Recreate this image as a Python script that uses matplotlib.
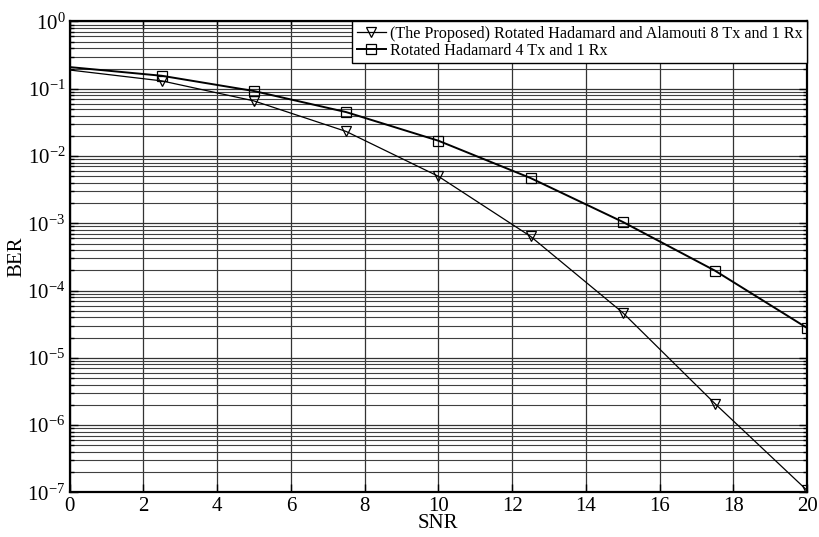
import numpy as np
import matplotlib
matplotlib.use("Agg")
import matplotlib.pyplot as plt
from matplotlib.ticker import FixedLocator, NullFormatter, MultipleLocator, LogFormatterSciNotation

plt.rcParams['font.family'] = ['Liberation Serif', 'DejaVu Serif']
plt.rcParams['mathtext.fontset'] = 'custom'
plt.rcParams['mathtext.rm'] = 'Liberation Serif'
plt.rcParams['mathtext.it'] = 'Liberation Serif:italic'
plt.rcParams['mathtext.default'] = 'regular'

# SNR points (first point drawn without marker)
snr = [0, 2.5, 5, 7.5, 10, 12.5, 15, 17.5, 20]

# BER curves
ber_proposed = [0.19, 0.131, 0.066, 0.0232, 0.0050, 6.4e-4, 4.7e-5, 2.09e-6, 1.07e-7]
ber_rh4 = [0.21, 0.156, 0.0925, 0.045, 0.0169, 0.00471, 1.05e-3, 1.98e-4, 2.78e-5]

label_proposed = '(The Proposed) Rotated Hadamard and Alamouti 8 Tx and 1 Rx'
label_rh4 = 'Rotated Hadamard 4 Tx and 1 Rx'

decades = np.arange(-7, 1)

fig = plt.figure(figsize=(8.2, 5.37), dpi=100)
ax = fig.add_axes([0.0848, 0.083, 0.8995, 0.877])

ax.semilogy(snr, ber_proposed, color='black', lw=0.9, marker='v', markersize=7.5,
            markerfacecolor='none', markeredgewidth=0.9, markevery=slice(1, None),
            label=label_proposed)
ax.semilogy(snr, ber_rh4, color='black', lw=1.4, marker='s', markersize=7,
            markerfacecolor='none', markeredgewidth=0.9, markevery=slice(1, None),
            label=label_rh4)

ax.set_xlim(0, 20)
ax.set_ylim(1e-7, 1)
ax.xaxis.set_major_locator(MultipleLocator(2))
major_y = [10.0 ** d for d in decades]
minor_y = [m * 10.0 ** d for d in decades[:-1] for m in range(2, 10)]
ax.yaxis.set_major_locator(FixedLocator(major_y))
ax.yaxis.set_major_formatter(LogFormatterSciNotation())
ax.yaxis.set_minor_locator(FixedLocator(minor_y))
ax.yaxis.set_minor_formatter(NullFormatter())

ax.grid(True, which='major', color='0.2', lw=0.9, ls='-')
ax.grid(True, which='minor', axis='y', color='0.25', lw=0.8, ls='-')
ax.set_axisbelow(True)

ax.tick_params(which='both', direction='in', top=True, right=True,
               labelsize=15, width=1)
ax.tick_params(axis='x', pad=3)
ax.tick_params(axis='y', pad=3)
ax.tick_params(which='major', length=6)
ax.tick_params(which='minor', length=3)
for s in ax.spines.values():
    s.set_linewidth(1.6)

ax.set_xlabel('SNR', fontsize=15, labelpad=-1)
ax.set_ylabel('BER', fontsize=15)
ax.yaxis.set_label_coords(-0.058, 0.5)

leg = ax.legend(loc='upper right', fontsize=11.6, frameon=True, fancybox=False,
                edgecolor='black', framealpha=1, borderaxespad=0,
                handlelength=1.8, handletextpad=0.3, labelspacing=0.1,
                borderpad=0.25)
leg.get_frame().set_linewidth(1.0)

fig.savefig('out.png', dpi=100)
